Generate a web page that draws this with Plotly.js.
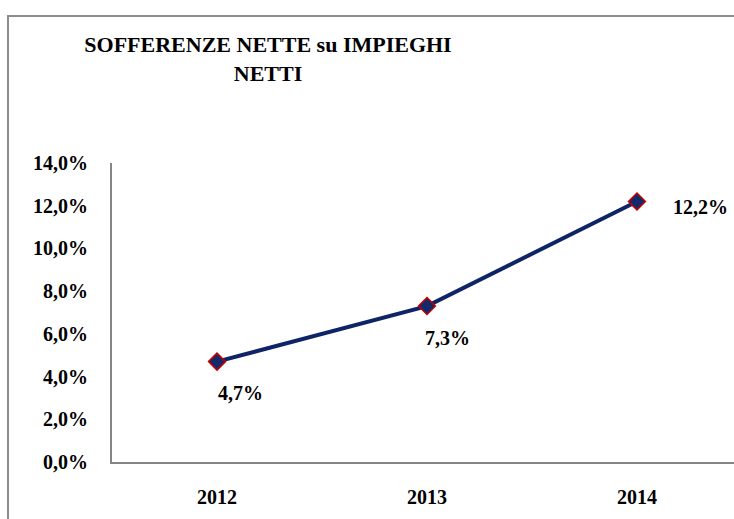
<!DOCTYPE html>
<html>
<head>
<meta charset="utf-8">
<script src="https://cdn.plot.ly/plotly-3.0.1.min.js"></script>
<style>
html,body{margin:0;padding:0;background:#fff;}
#wrap{position:relative;width:734px;height:519px;overflow:hidden;}
#chart{position:absolute;left:0;top:0;width:734px;height:519px;}
#frame{position:absolute;left:7px;top:15px;width:800px;height:600px;border-left:2px solid #8c8c8c;border-top:2px solid #8c8c8c;pointer-events:none;}
</style>
</head>
<body>
<div id="wrap"><div id="chart"></div><div id="frame"></div></div>
<script>
var years = ['2012', '2013', '2014'];
var values = [4.7, 7.3, 12.2];
var yTicks = [0, 2, 4, 6, 8, 10, 12, 14];
var yTickText = ['0,0%', '2,0%', '4,0%', '6,0%', '8,0%', '10,0%', '12,0%', '14,0%'];

function fmt(v){ return v.toFixed(1).replace('.', ',') + '%'; }

var fontFam = 'Liberation Serif, Times New Roman, serif';

var trace = {
  x: years,
  y: values,
  type: 'scatter',
  mode: 'lines+markers',
  line: {color: '#0e2466', width: 4},
  marker: {symbol: 'diamond', size: 13, color: '#14296b', line: {color: '#c00000', width: 1.5}},
  hoverinfo: 'none',
  cliponaxis: false
};

var labelOffsets = [[-1, -31], [-4, -32], [34, -6]];
var annotations = values.map(function(v, i){
  return {
    x: i, y: v, xref: 'x', yref: 'y',
    text: '<b>' + fmt(v) + '</b>',
    showarrow: false, xanchor: 'left', yanchor: 'middle',
    xshift: labelOffsets[i][0], yshift: labelOffsets[i][1],
    font: {family: fontFam, size: 20, color: '#000'}
  };
});

var layout = {
  width: 734, height: 519,
  margin: {l: 112, r: 0, t: 163, b: 57},
  paper_bgcolor: '#fff', plot_bgcolor: '#fff',
  showlegend: false,
  title: {
    text: '<b>SOFFERENZE NETTE su IMPIEGHI<br>NETTI</b>',
    x: 268 / 734, xanchor: 'center', xref: 'container',
    y: 1 - 52 / 519, yanchor: 'middle', yref: 'container',
    font: {family: fontFam, size: 22, color: '#000'}
  },
  xaxis: {
    type: 'category',
    range: [-0.5, 2.462],
    showline: true, linecolor: '#868686', linewidth: 2,
    showgrid: false, zeroline: false, ticks: '',
    ticklabelstandoff: 16,
    tickfont: {family: fontFam, size: 20, color: '#000'},
    tickvals: years,
    ticktext: years.map(function(y){ return '<b>' + y + '</b>'; }),
    fixedrange: true
  },
  yaxis: {
    range: [0, 14],
    showline: true, linecolor: '#868686', linewidth: 2,
    showgrid: false, zeroline: false, ticks: '',
    tickvals: yTicks,
    ticktext: yTickText.map(function(t){ return '<b>' + t + '</b>'; }),
    ticklabelstandoff: 18,
    tickfont: {family: fontFam, size: 20, color: '#000'},
    fixedrange: true
  },
  annotations: annotations
};

Plotly.newPlot('chart', [trace], layout, {displayModeBar: false, staticPlot: true});
</script>
</body>
</html>
